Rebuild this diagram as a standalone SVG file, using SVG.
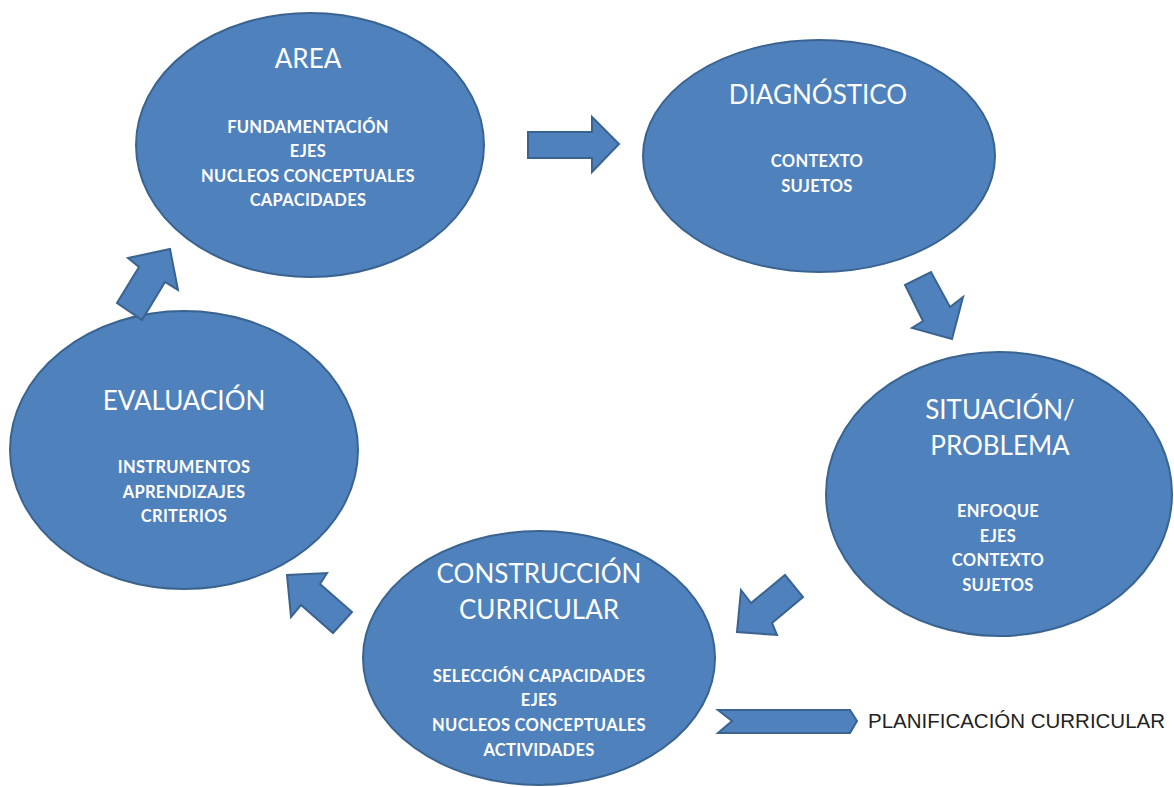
<svg xmlns="http://www.w3.org/2000/svg" width="1174" height="787" viewBox="0 0 1174 787">
<style>
.node{fill:#4F81BD;stroke:#3A6390;stroke-width:2}
.arr{fill:#4F81BD;stroke:#3A6390;stroke-width:2;stroke-linejoin:miter}
.t{font-family:Lato,"Open Sans",sans-serif;font-size:26px;fill:#fff;text-anchor:middle}
.s{font-family:Lato,"Open Sans",sans-serif;font-size:16.5px;letter-spacing:0.3px;font-weight:bold;fill:#fff;text-anchor:middle}
.p{font-family:"Liberation Sans",Arial,sans-serif;font-size:20px;fill:#222}
</style>
<rect width="1174" height="787" fill="#fff"/>
<g id="area">
<ellipse class="node" cx="310" cy="145" rx="174" ry="132"/>
<text class="t" x="308" y="68">AREA</text>
<text class="s" x="308" y="133">FUNDAMENTACIÓN</text>
<text class="s" x="308" y="157">EJES</text>
<text class="s" x="308" y="182">NUCLEOS CONCEPTUALES</text>
<text class="s" x="308" y="206">CAPACIDADES</text>
</g>
<g id="diagnostico">
<ellipse class="node" cx="819" cy="156" rx="176" ry="116"/>
<text class="t" x="818" y="104">DIAGNÓSTICO</text>
<text class="s" x="817" y="167">CONTEXTO</text>
<text class="s" x="817" y="192">SUJETOS</text>
</g>
<g id="situacion">
<ellipse class="node" cx="999" cy="494" rx="173" ry="142"/>
<text class="t" x="1000" y="419">SITUACIÓN/</text>
<text class="t" x="1000" y="455">PROBLEMA</text>
<text class="s" x="998" y="517">ENFOQUE</text>
<text class="s" x="998" y="542">EJES</text>
<text class="s" x="998" y="566">CONTEXTO</text>
<text class="s" x="998" y="591">SUJETOS</text>
</g>
<g id="construccion">
<ellipse class="node" cx="539" cy="658" rx="176" ry="127"/>
<text class="t" x="539" y="583">CONSTRUCCIÓN</text>
<text class="t" x="539" y="619">CURRICULAR</text>
<text class="s" x="539" y="682">SELECCIÓN CAPACIDADES</text>
<text class="s" x="539" y="706">EJES</text>
<text class="s" x="539" y="731">NUCLEOS CONCEPTUALES</text>
<text class="s" x="539" y="756">ACTIVIDADES</text>
</g>
<g id="evaluacion">
<ellipse class="node" cx="184" cy="450" rx="174" ry="139"/>
<text class="t" x="184" y="410">EVALUACIÓN</text>
<text class="s" x="184" y="473">INSTRUMENTOS</text>
<text class="s" x="184" y="498">APRENDIZAJES</text>
<text class="s" x="184" y="522">CRITERIOS</text>
</g>
<g id="connectors">
<polygon class="arr" points="528,132 592,132 592,117 619,144 592,172 592,158 528,158"/>
<polygon class="arr" points="905,285 931,272 950,307 963,297 952,339 912,328 923,321"/>
<polygon class="arr" points="785,575 803,597 772,623 777,635 737,632 741,590 751,603"/>
<polygon class="arr" points="287,575 327,573 320,584 352,612 333,633 301,605 291,617"/>
<polygon class="arr" points="128,258 170,249 178,290 165,282 142,320 117,303 139,267"/>
<polygon class="arr" points="718,710 850,710 857,721 850,733 718,733 732,721"/>
</g>
<g id="planificacion">
<text class="p" x="868" y="728" textLength="297" lengthAdjust="spacingAndGlyphs">PLANIFICACIÓN CURRICULAR</text>
</g>
</svg>
